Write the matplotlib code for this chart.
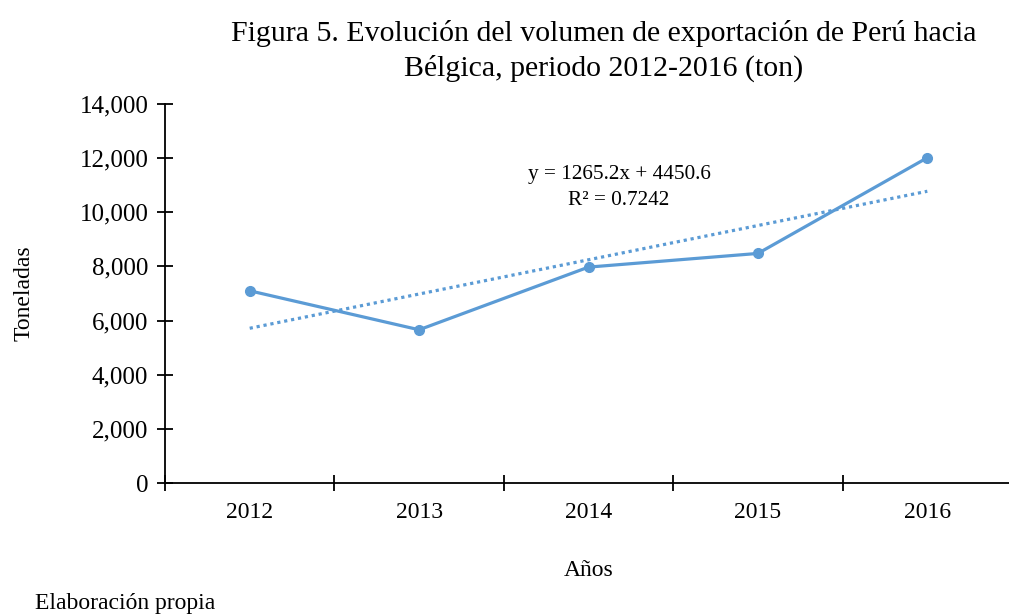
import numpy as np
import matplotlib
matplotlib.use('Agg')
import matplotlib.pyplot as plt
from matplotlib.ticker import FuncFormatter

# datos
anios = ['2012', '2013', '2014', '2015', '2016']
toneladas = [7100, 5660, 7975, 8480, 12016]
ecuacion = 'y = 1265.2x + 4450.6'
r2_texto = 'R² = 0.7242'

plt.rcParams['font.family'] = ['Liberation Serif', 'DejaVu Serif']
azul = '#5B9BD5'

fig = plt.figure(figsize=(10.09, 6.15), dpi=100)
ax = fig.add_axes([165 / 1009, 1 - 483 / 615, 1 - 165 / 1009 + 0.003, (483 - 104) / 615])

x = np.arange(1, len(anios) + 1)
ax.plot(x, toneladas, color=azul, linewidth=2.3, marker='o', markersize=7, zorder=3)

# línea de tendencia lineal
m, b = np.polyfit(x, toneladas, 1)
ax.plot(x, m * x + b, color=azul, linewidth=2.3, linestyle=(0, (1, 1.2)), zorder=2)

ax.text(3.18, 11400, ecuacion, ha='center', va='center', fontsize=15.3)
ax.text(3.18, 10450, r2_texto, ha='center', va='center', fontsize=15.3)

ax.set_xlim(0.5, 5.5)
ax.set_ylim(0, 14000)
ax.set_yticks(range(0, 14001, 2000))
ax.yaxis.set_major_formatter(FuncFormatter(lambda v, p: f'{int(v):,}'))
ax.set_xticks(x)
ax.set_xticklabels(anios)
ax.set_xticks(np.arange(0.5, 5.6, 1), minor=True)
ax.tick_params(axis='x', which='major', length=0, labelsize=17, pad=14)
ax.tick_params(axis='x', which='minor', length=12, width=1.3, direction='inout')
ax.tick_params(axis='y', length=12, width=1.3, direction='inout', labelsize=18, pad=6)

for s in ['top', 'right']:
    ax.spines[s].set_visible(False)
for s in ['left', 'bottom']:
    ax.spines[s].set_linewidth(1.3)

ax.set_xlabel('Años', fontsize=17, labelpad=26)
ax.set_ylabel('Toneladas', fontsize=17, labelpad=32)

fig.text(0.598, 0.945, 'Figura 5. Evolución del volumen de exportación de Perú hacia',
         ha='center', va='center', fontsize=21.5)
fig.text(0.598, 0.889, 'Bélgica, periodo 2012-2016 (ton)',
         ha='center', va='center', fontsize=21.5)
fig.text(35 / 1009, 1 - 604 / 615, 'Elaboración propia', ha='left', va='center', fontsize=17)

plt.savefig('out.png', dpi=100)
plt.close()
